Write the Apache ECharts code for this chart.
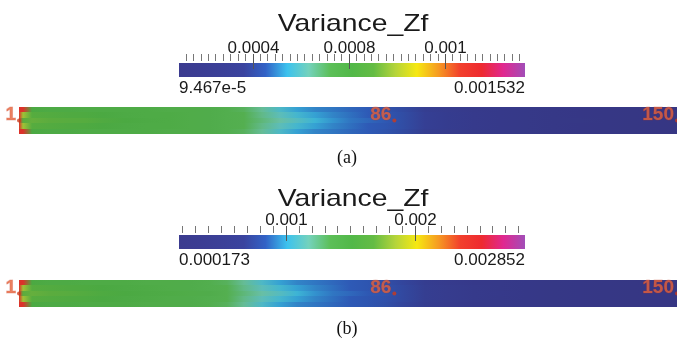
<!DOCTYPE html>
<html>
<head>
<meta charset="utf-8">
<script src="https://cdn.jsdelivr.net/npm/echarts@6/dist/echarts.min.js"></script>
<style>
html,body{margin:0;padding:0;background:#fff;}
#chart{width:677px;height:343px;}
</style>
</head>
<body>
<div id="chart"></div>
<script>
// Colour map, evenly spaced stops from low to high
const colormap = ['#3b3b8f','#3b3d93','#3b4098','#3a449f','#3262c6','#3cc2ee','#74d2bc','#5cbf58',
  '#52b848','#64bc44','#b4d43a','#f6e812','#f69a22','#f2402c','#ee2a30','#e02890','#a24eb8'];

// Point ids along the channel where the field is sampled
const sampleIds = [1,2,4,8,12,16,20,25,30,35,40,44,48,52,56,60,64,68,72,76,80,84,88,93,98,104,110,116,122,128,134,140,146,150];
// Labelled point ids
const pointLabels = [1, 86, 150];
const fieldName = 'Variance_Zf';

// ---- case (a) ----
const aRange = [0.00009467, 0.001532];
const aWall   = [0.001302,0.001302,0.000813,0.000799,0.000799,0.000785,0.000785,0.000785,0.000785,0.000770,0.000770,0.000756,0.000742,0.000713,0.000655,0.000583,0.000526,0.000497,0.000483,0.000468,0.000454,0.000432,0.000404,0.000353,0.000310,0.000267,0.000238,0.000210,0.000181,0.000152,0.000138,0.000123,0.000109,0.000096];
const aMid    = [0.001302,0.000986,0.000871,0.000856,0.000842,0.000828,0.000813,0.000799,0.000785,0.000785,0.000770,0.000756,0.000742,0.000727,0.000670,0.000612,0.000569,0.000526,0.000497,0.000476,0.000454,0.000440,0.000411,0.000368,0.000325,0.000282,0.000238,0.000210,0.000181,0.000152,0.000138,0.000123,0.000109,0.000096];
const aCenter = [0.001302,0.000900,0.000914,0.000900,0.000885,0.000871,0.000842,0.000813,0.000799,0.000785,0.000770,0.000756,0.000742,0.000727,0.000684,0.000641,0.000598,0.000555,0.000512,0.000483,0.000468,0.000447,0.000411,0.000368,0.000325,0.000282,0.000253,0.000210,0.000181,0.000167,0.000138,0.000123,0.000109,0.000096];
const aMajorTicks  = [0.0004, 0.0008, 0.0012];
const aMajorLabels = ['0.0004', '0.0008', '0.001'];
const aEndLabels   = ['9.467e-5', '0.001532'];
const aMinorStep = 0.0004 / 13;

// ---- case (b) ----
const bRange = [0.000173, 0.002852];
const bWall   = [0.002423,0.002423,0.001513,0.001486,0.001486,0.001459,0.001459,0.001459,0.001432,0.001432,0.001405,0.001379,0.001325,0.001218,0.001084,0.000977,0.000923,0.000896,0.000870,0.000843,0.000816,0.000776,0.000722,0.000628,0.000548,0.000468,0.000414,0.000361,0.000307,0.000280,0.000253,0.000227,0.000200,0.000174];
const bMid    = [0.002423,0.001834,0.001620,0.001593,0.001566,0.001539,0.001513,0.001486,0.001459,0.001432,0.001405,0.001379,0.001352,0.001245,0.001137,0.001057,0.000977,0.000923,0.000883,0.000843,0.000816,0.000789,0.000736,0.000655,0.000575,0.000494,0.000414,0.000361,0.000307,0.000280,0.000253,0.000227,0.000200,0.000174];
const bCenter = [0.002423,0.001673,0.001700,0.001673,0.001646,0.001593,0.001539,0.001513,0.001486,0.001459,0.001432,0.001405,0.001352,0.001271,0.001191,0.001111,0.001030,0.000950,0.000896,0.000870,0.000829,0.000803,0.000736,0.000655,0.000575,0.000494,0.000441,0.000361,0.000307,0.000280,0.000253,0.000227,0.000200,0.000174];
const bMajorTicks  = [0.001, 0.002];
const bMajorLabels = ['0.001', '0.002'];
const bEndLabels   = ['0.000173', '0.002852'];
const bMinorStep = 0.0001;

const captions = ['(a)', '(b)'];

// minor tick positions: every `step` from an anchor value, inside the range
function minorTicks(range, anchor, step) {
  const out = [];
  for (let v = anchor; v >= range[0]; v -= step) out.push(v);
  for (let v = anchor + step; v <= range[1]; v += step) out.push(v);
  return out;
}

// segments between neighbouring sample points: [idFrom, idTo, row, valueFrom, valueTo]
// rows from bottom: wall, mid, centre, mid, wall
function buildCells(wall, mid, center) {
  const rows = [wall, mid, center, mid, wall];
  const cells = [];
  for (let i = 0; i < sampleIds.length - 1; i++) {
    rows.forEach((r, k) => cells.push([sampleIds[i], sampleIds[i + 1], k, r[i], r[i + 1]]));
  }
  return cells;
}

// scalar -> colour through the colour map, with the slight shading of the lit surface
function valueColor(v, range) {
  const t = Math.min(1, Math.max(0, (v - range[0]) / (range[1] - range[0])));
  const c = echarts.color.parse(echarts.color.lerp(t, colormap));
  const k = 0.92;
  return echarts.color.stringify([c[0] * k | 0, c[1] * k | 0, c[2] * k | 0, 1], 'rgba');
}

function stripRenderer(range) {
  return function (params, api) {
    const p0 = api.coord([api.value(0), api.value(2)]);
    const p1 = api.coord([api.value(1), api.value(2) + 1]);
    const x0 = Math.round(p0[0]), x1 = Math.round(p1[0]);
    const y0 = Math.round(p1[1]), y1 = Math.round(p0[1]);
    const c0 = valueColor(api.value(3), range);
    const c1 = valueColor(api.value(4), range);
    return { type: 'rect', shape: { x: x0, y: y0, width: x1 - x0, height: y1 - y0 },
             style: { fill: new echarts.graphic.LinearGradient(0, 0, 1, 0,
                       [{ offset: 0, color: c0 }, { offset: 1, color: c1 }]) } };
  };
}

const textFont = '"Liberation Sans", Arial, sans-serif';

function colorbarItem(cfg) {
  return function (params, api) {
    const pa = api.coord([cfg.range[0], 0]);
    const pb = api.coord([cfg.range[1], 1]);
    const x0 = pa[0], yBot = pa[1], x1 = pb[0], yTop = pb[1];
    const stops = colormap.map((c, i) => ({ offset: i / (colormap.length - 1), color: c }));
    const kids = [{
      type: 'rect', shape: { x: x0, y: yTop, width: x1 - x0, height: yBot - yTop },
      style: { fill: new echarts.graphic.LinearGradient(0, 0, 1, 0, stops) }
    }];
    cfg.minor.forEach(v => {
      const x = Math.round(api.coord([v, 1])[0]) + 0.5;
      kids.push({ type: 'line', shape: { x1: x, y1: yTop - 9, x2: x, y2: yTop - 2 },
                  style: { stroke: '#777', lineWidth: 1 } });
    });
    cfg.major.forEach((v, i) => {
      const x = Math.round(api.coord([v, 1])[0]) + 0.5;
      kids.push({ type: 'line', shape: { x1: x, y1: yTop - 9, x2: x, y2: yTop + 6 },
                  style: { stroke: '#555', lineWidth: 1 } });
      kids.push({ type: 'text', x: x, y: yTop - 15,
                  style: { text: cfg.majorLabels[i], fill: '#1a1a1a', font: '17px ' + textFont,
                           align: 'center', verticalAlign: 'middle' } });
    });
    kids.push({ type: 'text', x: x0, y: yBot + 11,
                style: { text: cfg.ends[0], fill: '#1a1a1a', font: '17px ' + textFont, align: 'left', verticalAlign: 'middle' } });
    kids.push({ type: 'text', x: x1, y: yBot + 11,
                style: { text: cfg.ends[1], fill: '#1a1a1a', font: '17px ' + textFont, align: 'right', verticalAlign: 'middle' } });
    return { type: 'group', children: kids };
  };
}

function labelSeries(xi) {
  return {
    type: 'scatter', xAxisIndex: xi, yAxisIndex: xi, z: 5, silent: true,
    data: pointLabels.map(id => [id, 2.5]),
    symbol: 'circle', symbolSize: 4, itemStyle: { color: '#cc3a1c' },
    label: { show: true, position: 'left', distance: 1, offset: [0, -6],
             formatter: p => String(p.value[0]),
             color: '#e5603a', fontSize: 19, fontWeight: 'bold', fontFamily: 'Liberation Sans',
             textBorderColor: 'rgba(190,50,25,0.35)', textBorderWidth: 1 }
  };
}

const chart = echarts.init(document.getElementById('chart'), null, { renderer: 'canvas' });
chart.setOption({
  animation: false,
  backgroundColor: '#ffffff',
  grid: [
    { left: 19, right: 0, top: 107, height: 27 },
    { left: 179, width: 346, top: 63, height: 14 },
    { left: 19, right: 0, top: 280, height: 27 },
    { left: 179, width: 346, top: 235, height: 14 }
  ],
  xAxis: [
    { gridIndex: 0, type: 'value', min: 1, max: 150, show: false },
    { gridIndex: 1, type: 'value', min: aRange[0], max: aRange[1], show: false },
    { gridIndex: 2, type: 'value', min: 1, max: 150, show: false },
    { gridIndex: 3, type: 'value', min: bRange[0], max: bRange[1], show: false }
  ],
  yAxis: [
    { gridIndex: 0, type: 'value', min: 0, max: 5, show: false },
    { gridIndex: 1, type: 'value', min: 0, max: 1, show: false },
    { gridIndex: 2, type: 'value', min: 0, max: 5, show: false },
    { gridIndex: 3, type: 'value', min: 0, max: 1, show: false }
  ],
  series: [
    { type: 'custom', xAxisIndex: 0, yAxisIndex: 0, silent: true,
      renderItem: stripRenderer(aRange), data: buildCells(aWall, aMid, aCenter) },
    labelSeries(0),
    { type: 'custom', xAxisIndex: 1, yAxisIndex: 1, silent: true, data: [[aRange[0], aRange[1]]],
      renderItem: colorbarItem({ range: aRange, minor: minorTicks(aRange, aMajorTicks[0], aMinorStep),
                                 major: aMajorTicks, majorLabels: aMajorLabels, ends: aEndLabels }) },
    { type: 'custom', xAxisIndex: 2, yAxisIndex: 2, silent: true,
      renderItem: stripRenderer(bRange), data: buildCells(bWall, bMid, bCenter) },
    labelSeries(2),
    { type: 'custom', xAxisIndex: 3, yAxisIndex: 3, silent: true, data: [[bRange[0], bRange[1]]],
      renderItem: colorbarItem({ range: bRange, minor: minorTicks(bRange, 0.0002, bMinorStep),
                                 major: bMajorTicks, majorLabels: bMajorLabels, ends: bEndLabels }) }
  ],
  graphic: [
    { type: 'text', x: 353, y: 24, scaleX: 1.18, silent: true,
      style: { text: fieldName, font: '24px ' + textFont, fill: '#1a1a1a', align: 'center', verticalAlign: 'middle' } },
    { type: 'text', x: 353, y: 199, scaleX: 1.18, silent: true,
      style: { text: fieldName, font: '24px ' + textFont, fill: '#1a1a1a', align: 'center', verticalAlign: 'middle' } },
    { type: 'text', x: 347, y: 158, silent: true,
      style: { text: captions[0], font: '18px "Liberation Serif", "Times New Roman", serif', fill: '#111', align: 'center', verticalAlign: 'middle' } },
    { type: 'text', x: 347, y: 329, silent: true,
      style: { text: captions[1], font: '18px "Liberation Serif", "Times New Roman", serif', fill: '#111', align: 'center', verticalAlign: 'middle' } }
  ]
});
</script>
</body>
</html>
